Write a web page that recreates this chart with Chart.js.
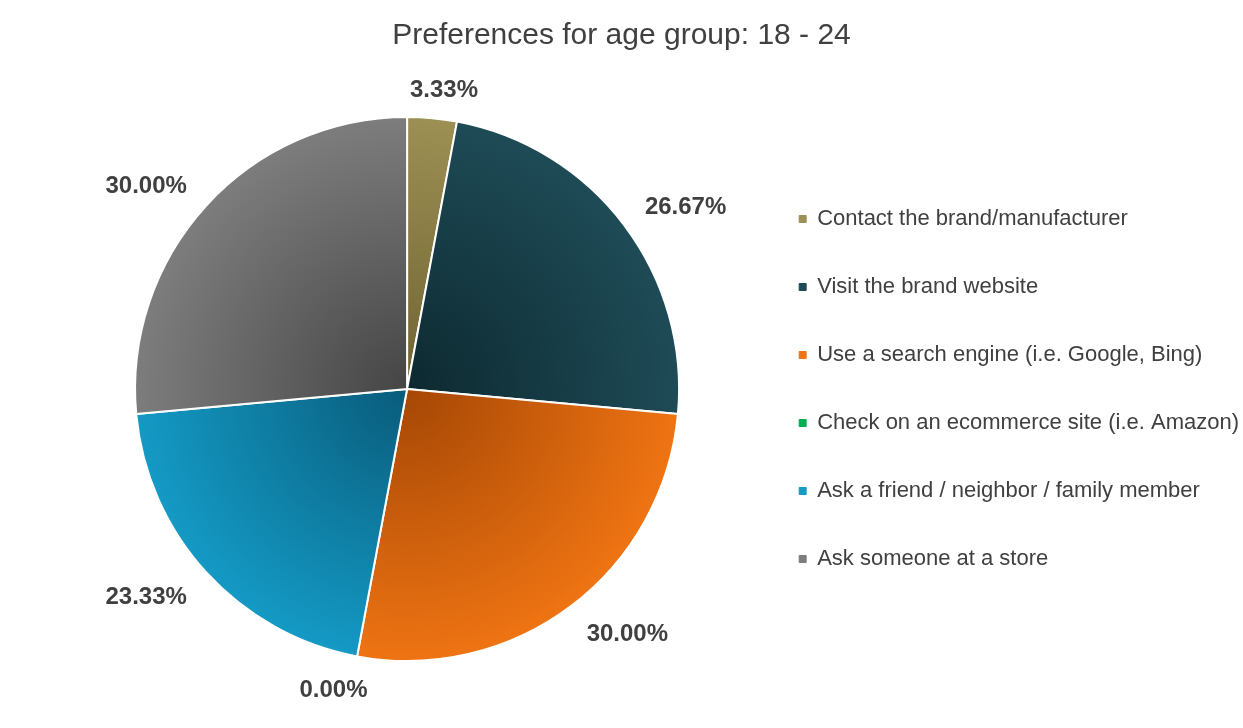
<!DOCTYPE html>
<html>
<head>
<meta charset="utf-8">
<script src="https://cdn.jsdelivr.net/npm/chart.js@4"></script>
<style>
  html, body { margin: 0; padding: 0; background: #fff; }
  #wrap { width: 1243px; height: 728px; }
</style>
</head>
<body>
<div id="wrap"><canvas id="pieChart"></canvas></div>
<script>
// data
const categories = [
    'Contact the brand/manufacturer',
    'Visit the brand website',
    'Use a search engine (i.e. Google, Bing)',
    'Check on an ecommerce site (i.e. Amazon)',
    'Ask a friend / neighbor / family member',
    'Ask someone at a store'
];
const shares = [3.33, 26.67, 30.00, 0.00, 23.33, 30.00];
const titleText = 'Preferences for age group: 18 - 24';

// slice colours: [near centre, at edge]
const innerColors = ['#6f6332', '#0d2930', '#a54705', '#00a04a', '#095b7a', '#454545'];
const outerColors = ['#9d9054', '#1e4b56', '#ef7413', '#00b050', '#149ac5', '#7d7d7d'];

const FONT = '"Liberation Sans", Arial, sans-serif';
const TEXT = '#404040';

function sliceFill(context) {
    const i = context.dataIndex;
    const chart = context.chart;
    const area = chart.chartArea;
    if (!area) return outerColors[i];
    const cx = (area.left + area.right) / 2;
    const cy = (area.top + area.bottom) / 2;
    const r = Math.min(area.right - area.left, area.bottom - area.top) / 2;
    const g = chart.ctx.createRadialGradient(cx, cy, 0, cx, cy, r);
    g.addColorStop(0, innerColors[i]);
    g.addColorStop(1, outerColors[i]);
    return g;
}

// title centred on the whole canvas (the built-in one follows the layout padding)
const pageTitle = {
    id: 'pageTitle',
    afterDraw(chart) {
        const ctx = chart.ctx;
        ctx.save();
        ctx.font = '30px ' + FONT;
        ctx.fillStyle = TEXT;
        ctx.textAlign = 'center';
        ctx.textBaseline = 'middle';
        ctx.fillText(titleText, chart.width / 2, 36);
        ctx.restore();
    }
};

// percentage labels outside the slice ends
const outsideLabels = {
    id: 'outsideLabels',
    afterDatasetsDraw(chart) {
        const ctx = chart.ctx;
        const meta = chart.getDatasetMeta(0);
        ctx.save();
        ctx.font = 'bold 24px ' + FONT;
        ctx.fillStyle = TEXT;
        ctx.textAlign = 'center';
        ctx.textBaseline = 'middle';
        meta.data.forEach((arc, i) => {
            const p = arc.getProps(['x', 'y', 'startAngle', 'endAngle', 'outerRadius'], true);
            const mid = (p.startAngle + p.endAngle) / 2;
            const dx = Math.cos(mid), dy = Math.sin(mid);
            const text = shares[i].toFixed(2) + '%';
            const w = ctx.measureText(text).width;
            const d = p.outerRadius + 26;
            const f = t => Math.max(-1, Math.min(1, t * 3));
            const x = p.x + d * dx + f(dx) * w / 2;
            const y = p.y + d * dy + f(dy) * 5 + 3;
            ctx.fillText(text, x, y);
        });
        ctx.restore();
    }
};

new Chart(document.getElementById('pieChart'), {
    type: 'pie',
    data: {
        labels: categories,
        datasets: [{
            data: shares,
            backgroundColor: sliceFill,
            borderColor: '#ffffff',
            borderWidth: 2
        }]
    },
    options: {
        responsive: true,
        maintainAspectRatio: false,
        animation: false,
        layout: { padding: { left: 61, right: -6, top: 116, bottom: 66 } },
        plugins: {
            title: { display: false },
            legend: {
                position: 'right',
                align: 'center',
                labels: {
                    color: TEXT,
                    font: { family: FONT, size: 22 },
                    boxWidth: 7,
                    boxHeight: 7,
                    padding: 46,
                    generateLabels(chart) {
                        const base = Chart.overrides.pie.plugins.legend.labels.generateLabels(chart);
                        return base.map(item => Object.assign(item, { strokeStyle: item.fillStyle, lineWidth: 1 }));
                    }
                }
            },
            tooltip: { enabled: false }
        }
    },
    plugins: [outsideLabels, pageTitle]
});
</script>
</body>
</html>
